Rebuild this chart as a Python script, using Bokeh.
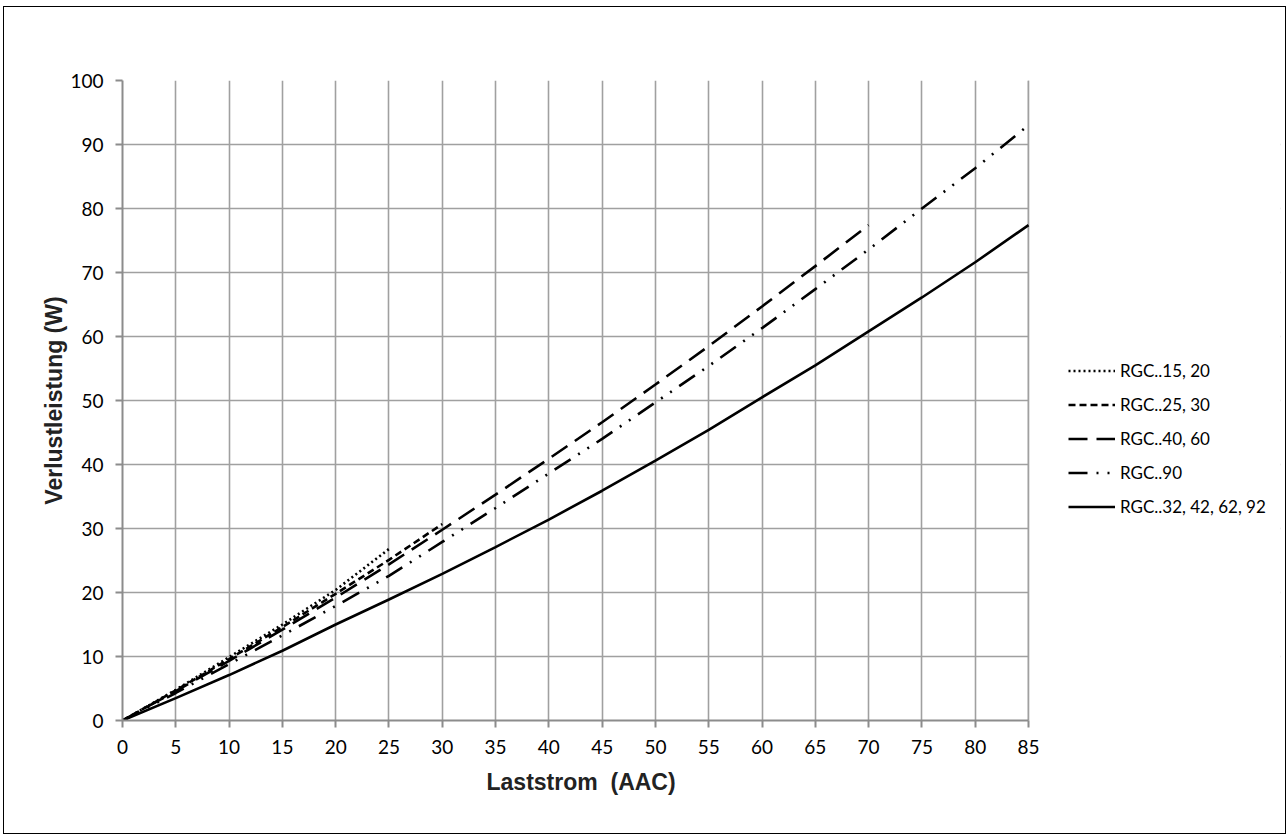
from bokeh.plotting import figure
from bokeh.models import Legend, LegendItem, FixedTicker, Range1d, BoxAnnotation, Span, Title
from bokeh.embed import file_html
from bokeh.resources import INLINE

# Laststrom (AAC)
x_rgc15 = [0, 5, 10, 15, 20, 25]
x_rgc25 = [0, 5, 10, 15, 20, 25, 30]
x_rgc40 = [0, 5, 10, 15, 20, 25, 30, 35, 40, 45, 50, 55, 60, 65, 70]
x_rgc90 = [0, 5, 10, 15, 20, 25, 30, 35, 40, 45, 50, 55, 60, 65, 70, 75, 80, 85]
x_rgc32 = [0, 5, 10, 15, 20, 25, 30, 35, 40, 45, 50, 55, 60, 65, 70, 75, 80, 85]

# Verlustleistung (W)
y_rgc15 = [0, 4.8, 9.9, 15.0, 20.4, 26.8]
y_rgc25 = [0, 4.7, 9.6, 14.6, 19.8, 25.1, 30.7]
y_rgc40 = [0, 4.6, 9.3, 14.2, 19.2, 24.4, 29.8, 35.3, 40.9, 46.6, 52.5, 58.5, 64.7, 71.0, 77.4]
y_rgc90 = [0, 4.3, 8.8, 13.3, 17.9, 22.6, 27.9, 33.2, 38.6, 44.0, 49.7, 55.4, 61.3, 67.4, 73.6, 80.0, 86.3, 93.0]
y_rgc32 = [0, 3.5, 7.1, 10.9, 15.0, 18.9, 22.9, 27.1, 31.4, 35.9, 40.6, 45.4, 50.5, 55.5, 60.8, 66.1, 71.6, 77.4]

labels = ["RGC..15, 20", "RGC..25, 30", "RGC..40, 60", "RGC..90", "RGC..32, 42, 62, 92"]
x_ticks = list(range(0, 86, 5))
y_ticks = list(range(0, 101, 10))
x_title = "Laststrom\u00a0\u00a0(AAC)"
y_title = "Verlustleistung (W)"

# layout: the plotted area is 906 px wide; the frame extends further right to hold the legend
W, H = 1281, 826
BL, BR, BT, BB = 118, 5, 73, 113
plot_w = 906
frame_w = W - BL - BR
x_max = x_ticks[-1]
x_end = x_max * frame_w / plot_w

p = figure(width=W, height=H, output_backend="svg", toolbar_location=None,
           x_range=Range1d(0, x_end), y_range=Range1d(0, y_ticks[-1]),
           min_border_left=BL, min_border_right=BR, min_border_top=BT, min_border_bottom=BB)
p.margin = (7, 0, 0, 4)
p.styles = {"outline": "1.5px solid #000000"}
p.outline_line_color = None
p.background_fill_color = "white"
p.border_fill_color = "white"

for ax, ticks in ((p.xaxis, x_ticks), (p.yaxis, y_ticks)):
    ax.ticker = FixedTicker(ticks=ticks)
    ax.axis_line_color = "#8c8c8c"
    ax.axis_line_width = 2
    ax.major_tick_line_color = "#8c8c8c"
    ax.major_tick_line_width = 2
    ax.major_tick_out = 7
    ax.major_tick_in = 0
    ax.minor_tick_line_color = None
    ax.major_label_text_font = "Lato"
    ax.major_label_text_font_size = "19px"
    ax.major_label_text_color = "#000000"
    ax.major_label_standoff = 12
    ax.axis_label_text_font = "Liberation Sans"
    ax.axis_label_text_font_style = "bold"
    ax.axis_label_text_font_size = "23px"
    ax.axis_label_text_color = "#222222"

p.xaxis.bounds = (0, x_max)
p.yaxis.axis_label = y_title
p.yaxis.axis_label_standoff = 0

# x axis title, centred under the plotted area (not the whole frame)
xt = Title(text=x_title, align="left", offset=364, vertical_align="middle", standoff=22,
           text_font="Liberation Sans", text_font_style="bold", text_font_size="23px",
           text_color="#222222")
p.add_layout(xt, "below")

grid_color = "#a0a0a0"
p.xgrid.ticker = FixedTicker(ticks=x_ticks)
p.ygrid.ticker = FixedTicker(ticks=y_ticks)
for g in (p.xgrid, p.ygrid):
    g.grid_line_color = grid_color
    g.grid_line_width = 1.6

# white mask to the right of the plotted area (covers horizontal grid lines), then right edge rule
p.add_layout(BoxAnnotation(left=x_max, fill_color="white", fill_alpha=1.0, line_color=None, level="underlay"))
p.add_layout(Span(location=x_max, dimension="height", line_color=grid_color, line_width=1.6, level="underlay"))

lw = 2.6
r1 = p.line(x_rgc15, y_rgc15, line_color="black", line_width=lw, line_dash="2 3")
r2 = p.line(x_rgc25, y_rgc25, line_color="black", line_width=lw, line_dash="7 4")
r3 = p.line(x_rgc40, y_rgc40, line_color="black", line_width=lw, line_dash="19 9")
r4 = p.line(x_rgc90, y_rgc90, line_color="black", line_width=lw, line_dash="19 9 2 9 2 9")
r5 = p.line(x_rgc32, y_rgc32, line_color="black", line_width=lw)

legend = Legend(items=[LegendItem(label=l, renderers=[r]) for l, r in zip(labels, [r1, r2, r3, r4, r5])],
                location=(946, 203))
legend.border_line_color = None
legend.background_fill_alpha = 0
legend.padding = 0
legend.margin = 0
legend.glyph_width = 47
legend.glyph_height = 21
legend.label_height = 21
legend.spacing = 13
legend.label_standoff = 5
legend.label_text_font = "Lato"
legend.label_text_font_size = "17px"
legend.label_text_color = "#000000"
p.add_layout(legend)

open("out.html", "w").write(file_html(p, INLINE))
